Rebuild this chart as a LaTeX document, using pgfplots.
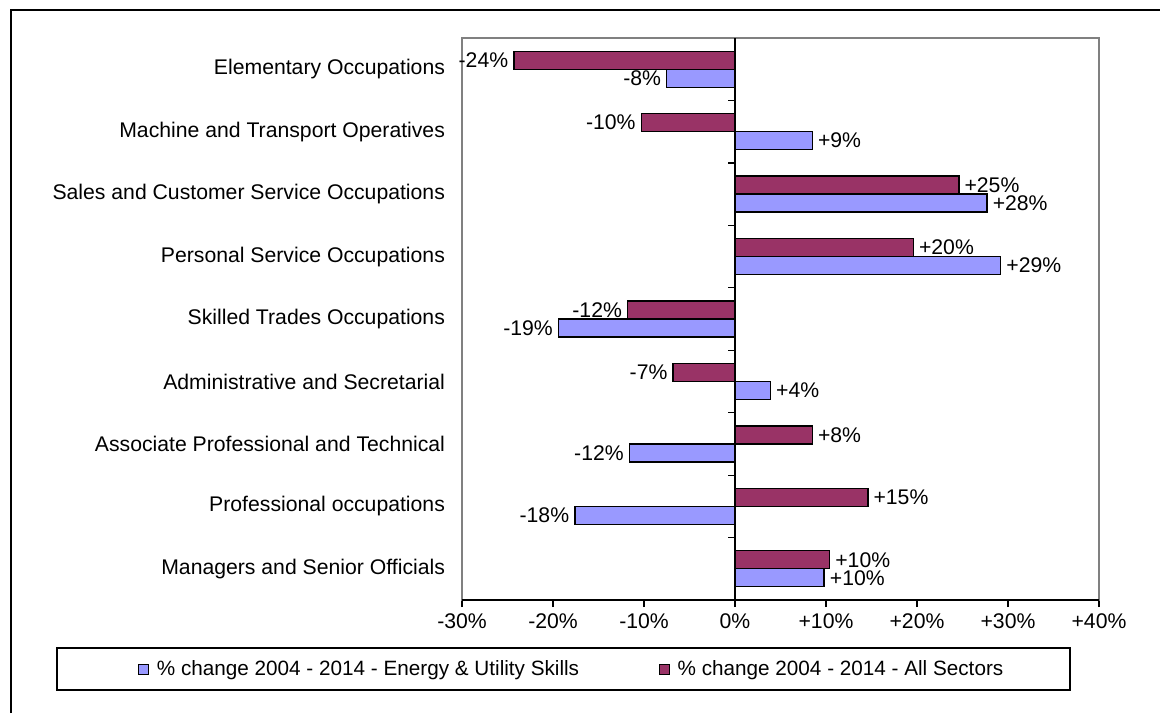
\documentclass[border=0pt]{standalone}
\usepackage{fontspec}
\setmainfont{Liberation Sans}
\usepackage{pgfplots}
\pgfplotsset{compat=1.18}
\usepackage{pgfplotstable}
\definecolor{eublue}{HTML}{9999FF}
\definecolor{allred}{HTML}{993366}

\pgfplotstableread{
c v lab
0 9.8 +10
1 -17.6 -18
2 -11.6 -12
3 3.9 +4
4 -19.4 -19
5 29.2 +29
6 27.7 +28
7 8.5 +9
8 -7.5 -8
}\energy

\pgfplotstableread{
c v lab
0 10.4 +10
1 14.6 +15
2 8.5 +8
3 -6.8 -7
4 -11.8 -12
5 19.6 +20
6 24.6 +25
7 -10.3 -10
8 -24.3 -24
}\allsec

\begin{document}
\begin{tikzpicture}[x=0.5pt,y=0.5pt]
\path[use as bounding box] (0,0) rectangle (1160,713);
\draw[line width=1pt] (11,0) -- (11,703) -- (1160,703);
\begin{axis}[
 at={(231pt,56.5pt)}, anchor=south west, scale only axis,
 width=318.5pt, height=281pt,
 xmin=-30, xmax=40, ymin=-0.5, ymax=8.5,
 xbar=0pt, bar width=9pt,
 xtick={-30,-20,...,40},
 xticklabels={-30\%,-20\%,-10\%,0\%,+10\%,+20\%,+30\%,+40\%},
 ytick={0,...,8},
 yticklabels={Managers and Senior Officials, Professional occupations, Associate Professional and Technical, Administrative and Secretarial, Skilled Trades Occupations, Personal Service Occupations, Sales and Customer Service Occupations, Machine and Transport Operatives, Elementary Occupations},
 xtick pos=bottom, ytick pos=left,
 tick align=outside,
 major tick length=3.5pt,
 ytick style={draw=none},
 xtick style={black, line width=0.6pt},
 axis line style={draw=gray, line width=0.8pt},
 tick label style={font=\fontsize{10.6}{12}\selectfont, text=black},
 yticklabel style={xshift=-1.5pt},
 nodes near coords={\pgfplotspointmeta\%},
 point meta=explicit symbolic,
 every node near coord/.append style={font=\fontsize{10.6}{12}\selectfont, text=black, inner sep=2.5pt},
 every node near coord/.append code={%
   \ifdim\pgfkeysvalueof{/data point/x}pt<0pt
     \pgfkeysalso{anchor=east}%
   \else
     \pgfkeysalso{anchor=west}%
   \fi},
 legend image code/.code={\draw[#1,draw=black,line width=0.5pt] (0pt,-2.5pt) rectangle (5pt,2.5pt); \path[draw=none,fill=none] (0pt,0pt) -- (7pt,0pt);},
 legend style={draw=none, fill=none, inner xsep=0pt,
   at={(axis description cs:-0.5086,-0.1228)}, anchor=west,
   font=\fontsize{10.35}{12}\selectfont,
   /tikz/every even column/.append style={column sep=38pt}},
 legend columns=2,
 clip=false,
]
\addplot[fill=eublue, draw=black, line width=0.7pt] table[x=v,y=c,meta=lab]{\energy};
\addlegendentry{\% change 2004 - 2014 - Energy \& Utility Skills}
\addplot[fill=allred, draw=black, line width=0.7pt] table[x=v,y=c,meta=lab]{\allsec};
\addlegendentry{\% change 2004 - 2014 - All Sectors}
\draw[black, line width=0.7pt] (axis cs:0,-0.5) -- (axis cs:0,8.5);
\pgfplotsinvokeforeach{0,...,7}{\draw[black,line width=0.6pt] (axis cs:0,#1.5) -- ++(-3.5pt,0pt);}
\draw[black, line width=0.8pt] (rel axis cs:0,0) -- (rel axis cs:1,0);
\end{axis}
\draw[line width=0.6pt] (57,23) rectangle (1070,65);
\end{tikzpicture}
\end{document}
